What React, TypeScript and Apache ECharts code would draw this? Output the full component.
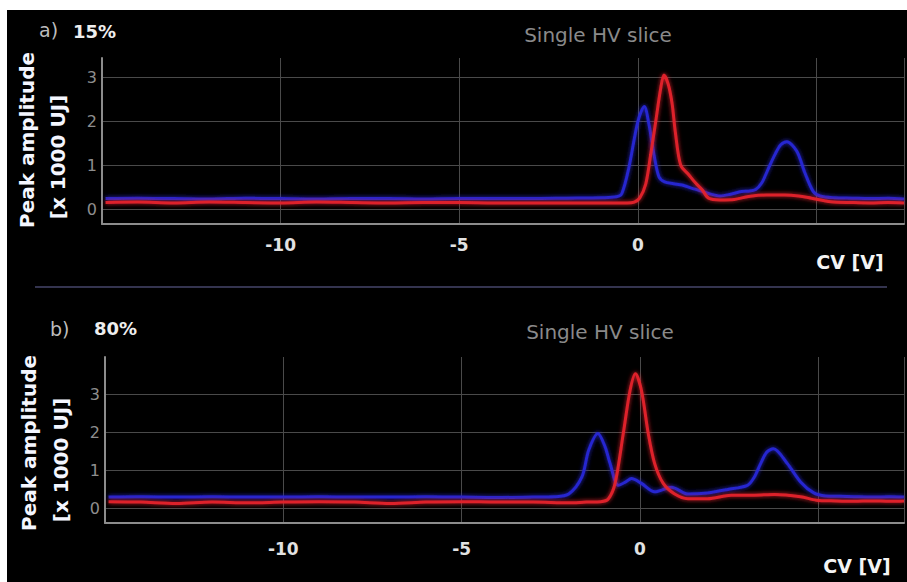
import React, { useEffect, useRef } from "react";
import * as echarts from "echarts";

// ---- data ----
const X_TICK_LABELS = ["-10", "-5", "0"];
const Y_TICK_LABELS = ["0", "1", "2", "3"];

// panel a) 15%
const A_BLUE_X = [-14.9, -14, -13, -12, -11, -10, -9, -8, -7, -6, -5, -4, -3, -2, -1,
  -0.6, -0.45, -0.25, 0, 0.18, 0.31, 0.45, 0.59, 0.75, 1.0,
  1.24, 1.5, 1.71, 2.0, 2.3, 2.6, 2.9, 3.1, 3.3, 3.47,
  3.65, 3.84, 4.0, 4.17, 4.45, 4.68, 4.91, 5.1, 5.5, 6, 6.5, 7, 7.45];
const A_BLUE_Y = [0.24, 0.25, 0.24, 0.23, 0.25, 0.24, 0.23, 0.24, 0.24, 0.23, 0.24, 0.24, 0.24, 0.25, 0.26,
  0.28, 0.35, 0.95, 2.0, 2.34, 1.94, 1.25, 0.74, 0.62, 0.58,
  0.55, 0.48, 0.43, 0.35, 0.3, 0.34, 0.4, 0.41, 0.45, 0.6,
  0.92, 1.25, 1.47, 1.54, 1.32, 0.82, 0.4, 0.3, 0.26, 0.25, 0.24, 0.25, 0.23];
const A_RED_X = [-14.9, -14, -13, -12, -11, -10, -9, -8, -7, -6, -5, -4, -3, -2, -1,
  -0.3, -0.1, 0.05, 0.22, 0.36, 0.5, 0.64, 0.73, 0.85, 0.96,
  1.05, 1.2, 1.43, 1.61, 1.8, 1.98, 2.3, 2.7, 3.1, 3.6,
  4.1, 4.5, 4.86, 5.4, 6, 6.5, 7, 7.45];
const A_RED_Y = [0.15, 0.16, 0.14, 0.16, 0.15, 0.14, 0.16, 0.15, 0.14, 0.15, 0.15, 0.14, 0.14, 0.14, 0.14,
  0.14, 0.16, 0.25, 0.57, 1.25, 2.0, 2.76, 3.06, 2.85, 2.4,
  1.75, 1.0, 0.78, 0.6, 0.44, 0.25, 0.21, 0.22, 0.29, 0.32,
  0.32, 0.3, 0.25, 0.17, 0.15, 0.14, 0.15, 0.14];

// panel b) 80%
const B_BLUE_X = [-14.9, -14, -13, -12, -11, -10, -9, -8, -7, -6, -5, -4, -3,
  -2.4, -2.0, -1.63, -1.44, -1.18, -0.98, -0.84, -0.61, -0.4, -0.24,
  0.04, 0.41, 0.88, 1.34, 1.9, 2.46, 3.01, 3.2, 3.38, 3.55, 3.74,
  4.13, 4.5, 4.87, 5.2, 5.6, 6, 6.5, 7, 7.4];
const B_BLUE_Y = [0.3, 0.31, 0.3, 0.31, 0.3, 0.3, 0.31, 0.3, 0.3, 0.31, 0.3, 0.29, 0.3,
  0.31, 0.38, 0.83, 1.53, 1.97, 1.62, 1.18, 0.61, 0.7, 0.79,
  0.66, 0.44, 0.56, 0.38, 0.41, 0.5, 0.61, 0.82, 1.18, 1.48, 1.57,
  1.18, 0.7, 0.41, 0.33, 0.32, 0.31, 0.3, 0.31, 0.3];
const B_RED_X = [-14.9, -14, -13, -12, -11, -10, -9, -8, -7, -6, -5, -4, -3, -2,
  -1.5, -1.1, -0.89, -0.7, -0.47, -0.28, -0.13, 0.04, 0.23, 0.41,
  0.65, 0.96, 1.34, 1.9, 2.55, 3.2, 3.77, 4.5, 4.94, 5.5,
  6, 6.5, 7, 7.4];
const B_RED_Y = [0.18, 0.17, 0.13, 0.17, 0.15, 0.17, 0.18, 0.17, 0.13, 0.17, 0.18, 0.17, 0.17, 0.15,
  0.17, 0.18, 0.25, 0.66, 1.97, 3.1, 3.54, 3.1, 1.97, 1.18,
  0.66, 0.39, 0.26, 0.26, 0.35, 0.35, 0.37, 0.31, 0.22, 0.2,
  0.19, 0.2, 0.19, 0.2];

const PANEL_LABELS = ["a)", "b)"];
const PANEL_PCT = ["15%", "80%"];
const TITLE = "Single HV slice";
const Y_NAME_1 = "Peak amplitude";
const Y_NAME_2 = "[x 1000 UJ]";
const X_NAME = "CV [V]";

const pair = (xs: number[], ys: number[]) => xs.map((x, i) => [x, ys[i]]);

const BLUE = "#2626d6";
const RED = "#e4222c";
const GRID = "#4a4a4a";
const AXIS = "#8c8c8c";
const FONT = "DejaVu Sans";

export default function App() {
  const ref = useRef<HTMLDivElement>(null);
  useEffect(() => {
    if (!ref.current) return;
    const chart = echarts.init(ref.current, null, { renderer: "svg" });

    const xAxisCommon = (max: number, margin: number) => ({
      type: "value",
      min: -15,
      max,
      interval: 5,
      axisLine: { show: true, onZero: false, lineStyle: { color: AXIS, width: 2 } },
      axisTick: { show: false },
      axisLabel: {
        color: "#e2e2e2",
        fontFamily: FONT,
        fontWeight: "bold",
        fontSize: 17,
        margin,
        formatter: (v: number) => (X_TICK_LABELS.includes(String(v)) ? String(v) : ""),
      },
      splitLine: { show: true, lineStyle: { color: GRID, width: 1 } },
    });
    const yAxisCommon = (min: number, max: number) => ({
      type: "value",
      min,
      max,
      splitNumber: 4,
      axisLine: { show: true, onZero: false, lineStyle: { color: AXIS, width: 2 } },
      axisTick: { show: false },
      axisLabel: {
        color: "#8e8e8e",
        fontFamily: FONT,
        fontSize: 16,
        margin: 5,
        showMinLabel: false,
        showMaxLabel: false,
        formatter: (v: number) => (Y_TICK_LABELS.includes(String(v)) ? String(v) : ""),
      },
      splitLine: { show: true, showMinLine: false, showMaxLine: false, lineStyle: { color: GRID, width: 1 } },
    });

    const lineSeries = (data: number[][], color: string, idx: number, z: number) => ({
      type: "line",
      data,
      xAxisIndex: idx,
      yAxisIndex: idx,
      showSymbol: false,
      smooth: 0.3,
      z,
      lineStyle: { color, width: 3, shadowBlur: 4, shadowColor: color, opacity: 0.95 },
    });

    const txt = (text: string, x: number, y: number, fill: string, size: number, weight: string, align = "left", rotation = 0) => ({
      type: "text",
      x,
      y,
      rotation,
      style: {
        text,
        fill,
        font: `${weight} ${size}px "${FONT}"`,
        textAlign: align,
        textVerticalAlign: "middle",
      },
    });

    chart.setOption({
      animation: false,
      backgroundColor: "#000",
      grid: [
        { left: 95, right: 0, top: 48, height: 166 },
        { left: 98, right: 0, top: 347, height: 166 },
      ],
      xAxis: [
        { ...xAxisCommon(7.45, 12), gridIndex: 0 },
        { ...xAxisCommon(7.4, 17), gridIndex: 1 },
      ],
      yAxis: [
        { ...yAxisCommon(-0.34, 3.45), gridIndex: 0 },
        { ...yAxisCommon(-0.38, 3.98), gridIndex: 1 },
      ],
      series: [
        lineSeries(pair(A_BLUE_X, A_BLUE_Y), BLUE, 0, 2),
        lineSeries(pair(A_RED_X, A_RED_Y), RED, 0, 3),
        lineSeries(pair(B_BLUE_X, B_BLUE_Y), BLUE, 1, 2),
        lineSeries(pair(B_RED_X, B_RED_Y), RED, 1, 3),
      ],
      graphic: [
        { type: "line", shape: { x1: 28, y1: 277, x2: 880, y2: 277 }, style: { stroke: "#34344f", lineWidth: 2 } },
        txt(PANEL_LABELS[0], 32, 20, "#bdbdbd", 19, "normal"),
        txt(PANEL_PCT[0], 66, 21, "#eeeeee", 18, "bold"),
        txt(PANEL_LABELS[1], 43, 319, "#bdbdbd", 19, "normal"),
        txt(PANEL_PCT[1], 87, 318, "#eeeeee", 18, "bold"),
        txt(TITLE, 591, 25, "#8a8a8a", 20, "normal", "center"),
        txt(TITLE, 593, 322, "#8a8a8a", 20, "normal", "center"),
        txt(Y_NAME_1, 20, 130, "#f4f6ff", 20, "bold", "center", Math.PI / 2),
        txt(Y_NAME_2, 51, 147, "#f4f6ff", 20, "bold", "center", Math.PI / 2),
        txt(Y_NAME_1, 22, 433, "#f4f6ff", 20, "bold", "center", Math.PI / 2),
        txt(Y_NAME_2, 54, 450, "#f4f6ff", 20, "bold", "center", Math.PI / 2),
        txt(X_NAME, 843, 252, "#f4f4f4", 19, "bold", "center"),
        txt(X_NAME, 850, 556, "#f4f4f4", 19, "bold", "center"),
      ],
    });
    return () => chart.dispose();
  }, []);

  return (
    <div
      ref={ref}
      style={{ position: "absolute", left: 7, top: 10, width: 900, height: 572, background: "#000" }}
    />
  );
}
